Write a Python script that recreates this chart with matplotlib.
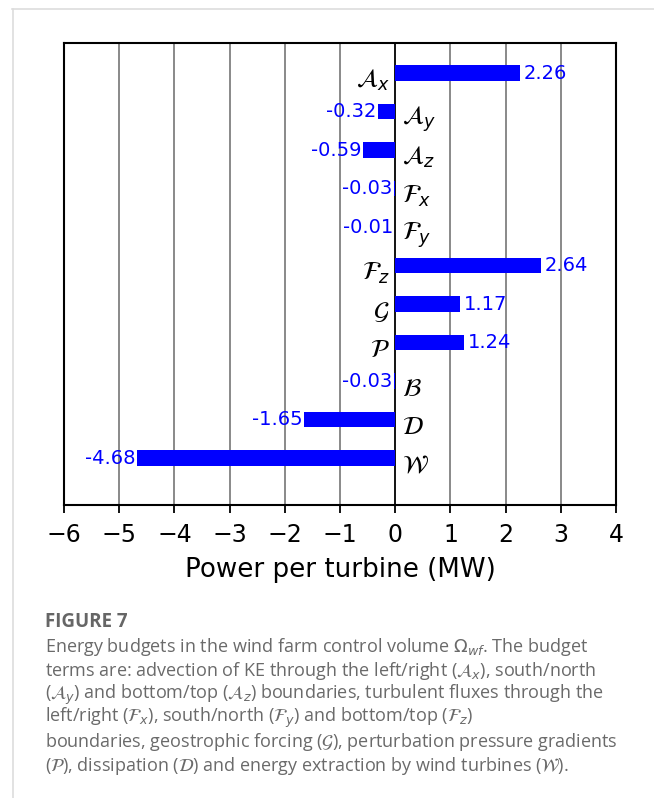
import matplotlib.pyplot as plt
from matplotlib.lines import Line2D

plt.rcParams['mathtext.fontset'] = 'dejavusans'

# datos
terminos = [r'$\mathcal{A}_x$', r'$\mathcal{A}_y$', r'$\mathcal{A}_z$',
            r'$\mathcal{F}_x$', r'$\mathcal{F}_y$', r'$\mathcal{F}_z$',
            r'$\mathcal{G}$', r'$\mathcal{P}$', r'$\mathcal{B}$',
            r'$\mathcal{D}$', r'$\mathcal{W}$']
valores = [2.26, -0.32, -0.59, -0.03, -0.01, 2.64, 1.17, 1.24, -0.03, -1.65, -4.68]

leyenda = [
    r"Energy budgets in the wind farm control volume $\Omega_{wf}$. The budget",
    r"terms are: advection of KE through the left/right ($\mathcal{A}_x$), south/north",
    r"($\mathcal{A}_y$) and bottom/top ($\mathcal{A}_z$) boundaries, turbulent fluxes through the",
    r"left/right ($\mathcal{F}_x$), south/north ($\mathcal{F}_y$) and bottom/top ($\mathcal{F}_z$)",
    r"boundaries, geostrophic forcing ($\mathcal{G}$), perturbation pressure gradients",
    r"($\mathcal{P}$), dissipation ($\mathcal{D}$) and energy extraction by wind turbines ($\mathcal{W}$).",
]

fig = plt.figure(figsize=(6.54, 7.98), dpi=100)
ax = fig.add_axes([0.098, 0.367, 0.844, 0.579])

pos = list(range(len(valores)))
ax.barh(pos, valores, height=0.4, color='blue', zorder=3)

for y, v, t in zip(pos, valores, terminos):
    if v >= 0:
        ax.text(v + 0.07, y, f'{v:.2f}', color='blue', fontsize=14,
                ha='left', va='center', zorder=4)
        ax.text(-0.1, y + 0.2, t, color='black', fontsize=18,
                ha='right', va='center', zorder=4)
    else:
        ax.text(v - 0.03, y, f'{v:.2f}', color='blue', fontsize=14,
                ha='right', va='center', zorder=4)
        ax.text(0.12, y + 0.2, t, color='black', fontsize=18,
                ha='left', va='center', zorder=4)

ax.set_xlim(-6, 4)
ax.set_ylim(len(valores) - 1 + 1.22, -0.78)
ax.set_xticks(range(-6, 5))
ax.set_yticks([])
for x in range(-5, 4):
    ax.axvline(x, color='black' if x == 0 else 'gray', lw=1.3, zorder=1)
ax.tick_params(axis='x', labelsize=17, length=6, width=1.3, pad=7)
for s in ax.spines.values():
    s.set_linewidth(1.5)
ax.set_xlabel('Power per turbine (MW)', fontsize=18.8, labelpad=7)

# marco de la tarjeta
fig.add_artist(Line2D([12 / 654, 1], [1 - 9 / 798, 1 - 9 / 798],
                      transform=fig.transFigure, color='#dddddd', lw=1.2))
fig.add_artist(Line2D([13 / 654, 13 / 654], [0, 1 - 9 / 798],
                      transform=fig.transFigure, color='#dddddd', lw=1.2))

fig.text(45 / 654, 1 - 622 / 798, 'FIGURE 7', fontsize=13.5, fontweight='bold',
         color='#666666', family='Open Sans', va='center')
for i, linea in enumerate(leyenda):
    fig.text(45 / 654, 1 - (647 + i * 23.8) / 798, linea, fontsize=13,
             color='#6a6a6a', family='Open Sans', va='center')

fig.savefig('out.png', dpi=100)
